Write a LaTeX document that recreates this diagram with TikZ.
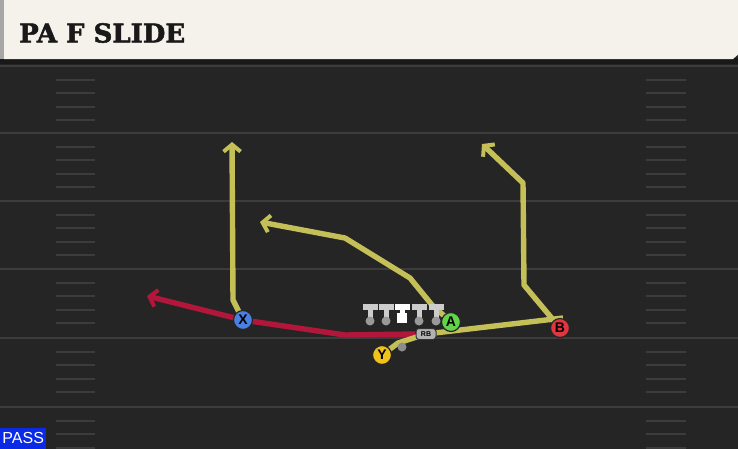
\documentclass[tikz,border=0pt]{standalone}
\usepackage{fontspec}
\setsansfont{Liberation Sans}
\newfontfamily\titrefont{DejaVu Serif}[BoldFeatures={FakeBold=2}]
\usetikzlibrary{arrows.meta}

\definecolor{terrain}{HTML}{252525}
\definecolor{ligne}{HTML}{3C3C3C}
\definecolor{entete}{HTML}{F5F2EC}
\definecolor{jaune}{HTML}{C4C057}
\definecolor{rouge}{HTML}{B2173B}
\definecolor{bleuX}{HTML}{4A80E2}
\definecolor{vertA}{HTML}{62D44C}
\definecolor{rougeB}{HTML}{E0363F}
\definecolor{jauneY}{HTML}{F2C21C}
\definecolor{bleuPass}{HTML}{0A2AE6}

\pgfdeclarelayer{fond}
\pgfdeclarelayer{trace}
\pgfsetlayers{fond,trace,main}

\tikzset{joueur/.style = {circle, draw = black!85, line width = 1.2pt, fill = #1,
                          minimum size = 19pt, inner sep = 0pt,
                          font = \sffamily\bfseries\fontsize{14}{14}\selectfont},
         joueur/.default = gray,
         route/.style = {draw = #1, line width = 5.4pt, line join = round},
         route/.default = jaune,
         fleche/.style = {-{Straight Barb[length = 7pt, width = 17pt, line width = 4pt]}},
         barre/.style = {fill = black!20, draw = none},
         boule/.style = {circle, fill = black!40, inner sep = 0pt, minimum size = 9pt}
        }

\begin{document}
\begin{tikzpicture}[x = 1pt, y = -1pt]
  \useasboundingbox (0,0) rectangle (738,448);

  % terrain
  \begin{pgfonlayer}{fond}
    \fill[terrain] (-3,-3) rectangle (741,451);
    \fill[black!90] (0,58) rectangle (741,64);
    \foreach \y in {66,133,201,269,338,407}
      \draw[ligne, line width = 2.8pt] (-3,\y) -- (741,\y);
    \foreach \y in {66,133,201,269,338,407}
      \foreach \k in {1,2,3,4} {
        \draw[ligne, line width = 2pt] (56,\y+13.6*\k) -- (95,\y+13.6*\k);
        \draw[ligne, line width = 2pt] (646,\y+13.6*\k) -- (686,\y+13.6*\k);
      }
    % entete
    \fill[black!35] (-3,-3) rectangle (5,59);
    \fill[entete] (4,-3) -- (741,-3) -- (741,52) -- (733,59) -- (4,59) -- cycle;
  \end{pgfonlayer}

  \node[anchor = west, font = \titrefont\bfseries\fontsize{26}{26}\selectfont,
        text = black!90, inner sep = 0pt] (titre) at (19,33) {PA F SLIDE};

  % ligne offensive
  \foreach \x in {370,386,419,436} {
    \fill[barre] (\x-7.5,304) rectangle (\x+7.5,310);
    \fill[barre] (\x-2.5,309) rectangle (\x+2.5,318);
    \node[boule] at (\x,321) {};
  }
  \fill[white] (394.5,304) rectangle (409.5,310);
  \fill[white] (399.5,309) rectangle (404.5,314);
  \node[fill = white, inner sep = 0pt, minimum size = 10pt] (centre) at (402,318) {};

  % joueurs
  \node[joueur = bleuX] (X) at (243,320) {X};
  \node[joueur = vertA] (A) at (451,322) {A};
  \node[joueur = rougeB] (B) at (560,328) {B};
  \node[joueur = jauneY] (Y) at (382,355) {Y};
  \node[boule, fill = black!45] (QB) at (402,347) {};
  \node[rounded corners = 3pt, fill = black!30, draw = black!80, line width = 1pt,
        minimum width = 20pt, minimum height = 11pt, inner sep = 0pt,
        font = \sffamily\bfseries\fontsize{7}{7}\selectfont] (RB) at (426,334) {RB};

  % routes
  \begin{pgfonlayer}{trace}
    \draw[route = rouge, fleche] (RB.west) -- (345,335) -- (X.center) -- (147,296);
    \draw[route] (Y.center) -- (398,343) -- (RB.center) -- (563,318);
    \draw[route, fleche] (X.center) -- (233,300) -- (232,142);
    \draw[route, fleche] (A.center) -- (432,305) -- (410,278) -- (345,238) -- (260,222);
    \draw[route, fleche] (B.center) -- (524,285) -- (523,183) -- (482,144);
  \end{pgfonlayer}

  % etiquette
  \node[fill = bleuPass, text = white, anchor = south west, minimum width = 46pt,
        minimum height = 21pt, inner sep = 0pt,
        font = \sffamily\fontsize{16}{16}\selectfont] (pass) at (0,449) {PASS};
\end{tikzpicture}
\end{document}
